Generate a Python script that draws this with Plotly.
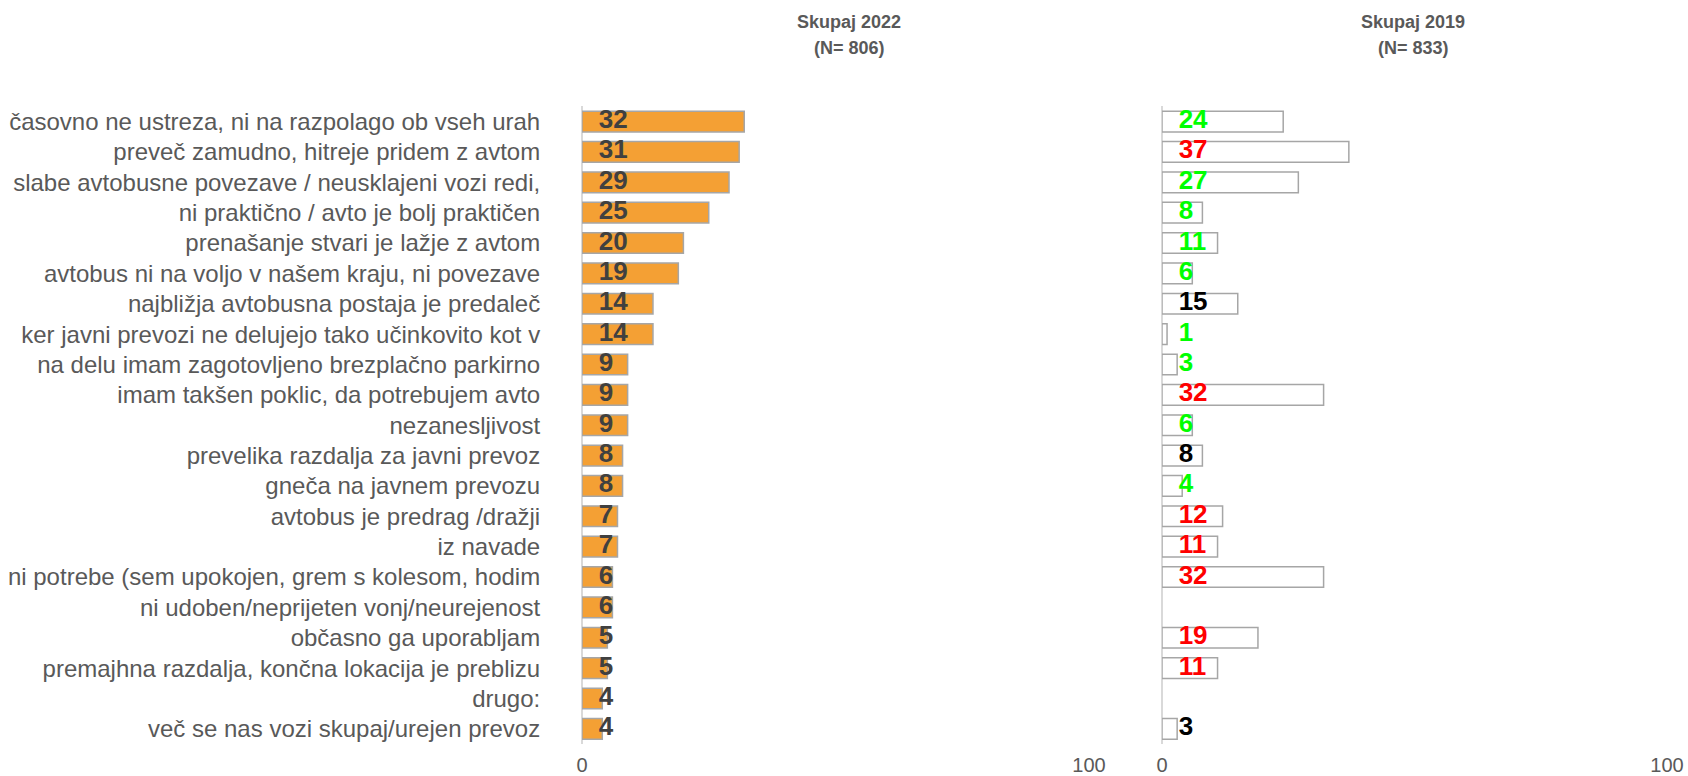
import plotly.graph_objects as go

# Razlogi, zakaj anketiranci ne uporabljajo javnega prevoza (v %)
categories = [
    "časovno ne ustreza, ni na razpolago ob vseh urah",
    "preveč zamudno, hitreje pridem z avtom",
    "slabe avtobusne povezave / neusklajeni vozi redi,",
    "ni praktično / avto je bolj praktičen",
    "prenašanje stvari je lažje z avtom",
    "avtobus ni na voljo v našem kraju, ni povezave",
    "najbližja avtobusna postaja je predaleč",
    "ker javni prevozi ne delujejo tako učinkovito kot v",
    "na delu imam zagotovljeno brezplačno parkirno",
    "imam takšen poklic, da potrebujem avto",
    "nezanesljivost",
    "prevelika razdalja za javni prevoz",
    "gneča na javnem prevozu",
    "avtobus je predrag /dražji",
    "iz navade",
    "ni potrebe (sem upokojen, grem s kolesom, hodim",
    "ni udoben/neprijeten vonj/neurejenost",
    "občasno ga uporabljam",
    "premajhna razdalja, končna lokacija je preblizu",
    "drugo:",
    "več se nas vozi skupaj/urejen prevoz",
]

values_2022 = [32, 31, 29, 25, 20, 19, 14, 14, 9, 9, 9, 8, 8, 7, 7, 6, 6, 5, 5, 4, 4]
values_2019 = [24, 37, 27, 8, 11, 6, 15, 1, 3, 32, 6, 8, 4, 12, 11, 32, None, 19, 11, None, 3]

# barva oznake 2019: zelena = manj kot 2022, rdeča = več kot 2022, črna = brez razlike
label_colors_2019 = [
    "#00FF00", "#FF0000", "#00FF00", "#00FF00", "#00FF00", "#00FF00", "#000000",
    "#00FF00", "#00FF00", "#FF0000", "#00FF00", "#000000", "#00FF00", "#FF0000",
    "#FF0000", "#FF0000", "#000000", "#FF0000", "#FF0000", "#000000", "#000000",
]

panel_titles = [("Skupaj 2022", "(N= 806)"), ("Skupaj 2019", "(N= 833)")]
axis_ticks = [0, 100]

W, H = 1688, 776
FONT = "Liberation Sans, Arial, sans-serif"
GRID = "#D9D9D9"
OUTLINE = "#A6A6A6"
LABEL_OFFSET = 3.3  # data units from zero where value labels start

fig = go.Figure()

fig.add_trace(go.Bar(
    y=categories, x=values_2022, orientation="h",
    marker=dict(color="#F4A034", line=dict(color=OUTLINE, width=1.5)),
    xaxis="x", yaxis="y", hoverinfo="x+y", showlegend=False,
))
fig.add_trace(go.Scatter(
    y=categories, x=[LABEL_OFFSET] * len(categories),
    text=[str(v) for v in values_2022], mode="text", textposition="middle right",
    textfont=dict(family=FONT, size=26, color="#404040", weight="bold"),
    xaxis="x", yaxis="y", hoverinfo="skip", showlegend=False, cliponaxis=False,
))

fig.add_trace(go.Bar(
    y=categories, x=values_2019, orientation="h",
    marker=dict(color="white", line=dict(color=OUTLINE, width=1.5)),
    xaxis="x2", yaxis="y2", hoverinfo="x+y", showlegend=False,
))
fig.add_trace(go.Scatter(
    y=categories, x=[LABEL_OFFSET] * len(categories),
    text=["" if v is None else str(v) for v in values_2019],
    mode="text", textposition="middle right",
    textfont=dict(family=FONT, size=26, color=label_colors_2019, weight="bold"),
    xaxis="x2", yaxis="y2", hoverinfo="skip", showlegend=False, cliponaxis=False,
))

n = len(categories)
y_dom = [1 - 744 / H, 1 - 106.4 / H]
x1_dom = [582 / W, 1089 / W]
x2_dom = [1162 / W, 1667 / W]

xaxis_common = dict(
    range=[0, 100], tickvals=axis_ticks, showgrid=True, gridcolor=GRID, gridwidth=1.5,
    zeroline=True, zerolinecolor=GRID, zerolinewidth=1.5, showline=False,
    ticks="outside", ticklen=3, tickcolor="rgba(0,0,0,0)", automargin=False,
    tickfont=dict(family=FONT, size=20, color="#595959"), fixedrange=True,
)
yaxis_common = dict(
    domain=y_dom, categoryorder="array", categoryarray=categories, automargin=False,
    range=[n - 0.5, -0.5], showgrid=False, zeroline=False, showline=False, fixedrange=True,
)

fig.update_layout(
    width=W, height=H, margin=dict(l=0, r=0, t=0, b=0),
    paper_bgcolor="white", plot_bgcolor="white",
    bargap=0.32,
    xaxis=dict(domain=x1_dom, anchor="y", **xaxis_common),
    xaxis2=dict(domain=x2_dom, anchor="y2", **xaxis_common),
    yaxis=dict(
        anchor="x", ticks="outside", ticklen=36, tickcolor="rgba(0,0,0,0)",
        tickfont=dict(family=FONT, size=24, color="#595959"), **yaxis_common,
    ),
    yaxis2=dict(anchor="x2", showticklabels=False, **yaxis_common),
    font=dict(family=FONT, color="#595959"),
)

for cx, (line1, line2) in zip([849, 1413], panel_titles):
    for cy, line in ((22, line1), (48, line2)):
        fig.add_annotation(
            x=cx / W, y=1 - cy / H, xref="paper", yref="paper",
            text=line, showarrow=False, xanchor="center", yanchor="middle",
            font=dict(family=FONT, size=18, color="#595959", weight="bold"),
        )

fig.write_html("out.html", config={"displayModeBar": False})
